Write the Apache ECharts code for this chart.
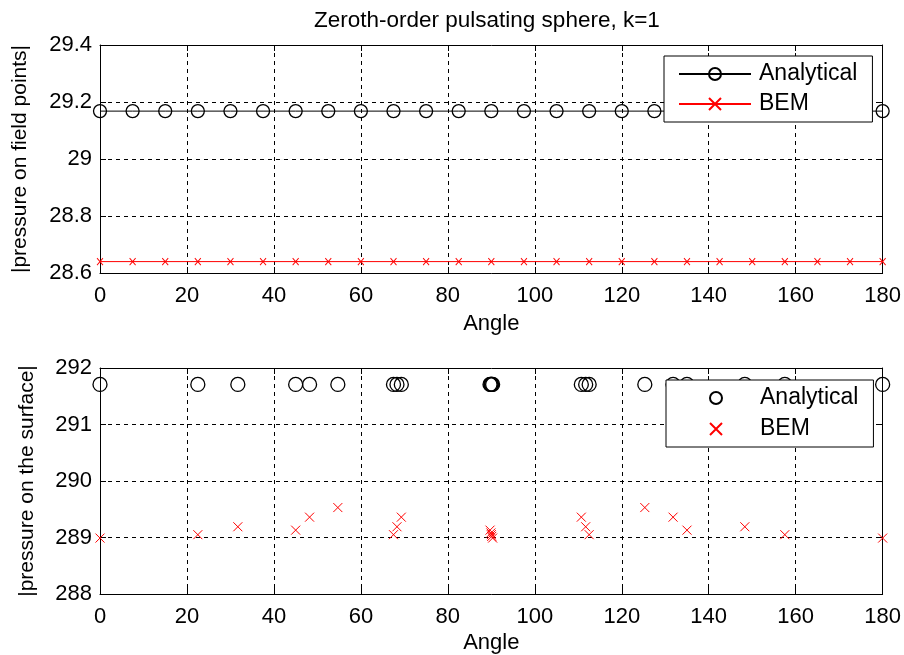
<!DOCTYPE html>
<html>
<head>
<meta charset="utf-8">
<script src="https://cdn.jsdelivr.net/npm/echarts@6/dist/echarts.min.js"></script>
<style>
html,body{margin:0;padding:0;background:#fff;}
#chart{width:904px;height:655px;}
</style>
</head>
<body>
<div id="chart"></div>
<script>
// ---- Data ----
const titleText = 'Zeroth-order pulsating sphere, k=1';
const seriesNames = ['Analytical', 'BEM'];

// Top subplot: field points
const fieldAngles = [0, 7.5, 15, 22.5, 30, 37.5, 45, 52.5, 60, 67.5, 75, 82.5, 90, 97.5, 105, 112.5, 120, 127.5, 135, 142.5, 150, 157.5, 165, 172.5, 180];
const fieldAnalytical = [29.168, 29.168, 29.168, 29.168, 29.168, 29.168, 29.168, 29.168, 29.168, 29.168, 29.168, 29.168, 29.168, 29.168, 29.168, 29.168, 29.168, 29.168, 29.168, 29.168, 29.168, 29.168, 29.168, 29.168, 29.168];
const fieldBEM = [28.64, 28.64, 28.64, 28.64, 28.64, 28.64, 28.64, 28.64, 28.64, 28.64, 28.64, 28.64, 28.64, 28.64, 28.64, 28.64, 28.64, 28.64, 28.64, 28.64, 28.64, 28.64, 28.64, 28.64, 28.64];

// Bottom subplot: surface points
const surfAngles = [0, 22.5, 31.7, 45, 48.2, 54.7, 67.5, 68.3, 69.3, 89.7, 89.9, 90, 90.1, 90.3, 110.7, 111.7, 112.5, 125.3, 131.8, 135, 148.3, 157.5, 180];
const surfAnalytical = [291.71, 291.71, 291.71, 291.71, 291.71, 291.71, 291.71, 291.71, 291.71, 291.71, 291.71, 291.71, 291.71, 291.71, 291.71, 291.71, 291.71, 291.71, 291.71, 291.71, 291.71, 291.71, 291.71];
const surfBEM = [288.99, 289.05, 289.19, 289.13, 289.36, 289.53, 289.05, 289.19, 289.36, 289.13, 289.08, 289.05, 289.02, 288.99, 289.36, 289.19, 289.05, 289.53, 289.36, 289.13, 289.19, 289.05, 288.99];

// Axis settings
const xTicks = {min: 0, max: 180, interval: 20};
const yTopTicks = {min: 28.6, max: 29.4, interval: 0.2};
const yBotTicks = {min: 288, max: 292, interval: 1};
const xName = 'Angle';
const yTopName = '|pressure on field points|';
const yBotName = '|pressure on the surface|';

// ---- Build ----
const FONT = '"Liberation Sans", Arial, sans-serif';
const pairs = (xs, ys) => xs.map((x, i) => [x, ys[i]]);
const crossPath = 'path://M0,0L10,10M0,10L10,0';

function xAxisDef(gi, pos, withLabels, gap) {
  return {
    type: 'value', gridIndex: gi, position: pos,
    min: xTicks.min, max: xTicks.max, interval: xTicks.interval,
    name: withLabels ? xName : '', nameLocation: 'middle', nameGap: gap || 0,
    nameTextStyle: {fontFamily: FONT, fontSize: 22, color: '#000'},
    axisLine: {show: true, onZero: false, lineStyle: {color: '#000', width: 1}},
    axisTick: {show: true, inside: true, length: 6, lineStyle: {color: '#000'}},
    axisLabel: {show: withLabels, fontFamily: FONT, fontSize: 22, color: '#000', margin: 12},
    splitLine: {show: withLabels, lineStyle: {color: '#000', type: [4, 4], width: 1}}
  };
}
function yAxisDef(gi, pos, t, name, gap, withLabels) {
  return {
    type: 'value', gridIndex: gi, position: pos,
    min: t.min, max: t.max, interval: t.interval,
    name: withLabels ? name : '', nameLocation: 'middle', nameGap: gap, nameRotate: 90,
    nameTextStyle: {fontFamily: FONT, fontSize: 21, color: '#000'},
    axisLine: {show: true, onZero: false, lineStyle: {color: '#000', width: 1}},
    axisTick: {show: true, inside: true, length: 6, lineStyle: {color: '#000'}},
    axisLabel: {show: withLabels, fontFamily: FONT, fontSize: 22, color: '#000', margin: 8},
    splitLine: {show: withLabels, lineStyle: {color: '#000', type: [4, 4], width: 1}}
  };
}

const option = {
  backgroundColor: '#fff',
  animation: false,
  title: {
    text: titleText, left: 309, top: 4,
    textStyle: {fontFamily: FONT, fontSize: 22.5, fontWeight: 'normal', color: '#000'}
  },
  grid: [
    {left: 100, top: 45, width: 783, height: 228},
    {left: 100, top: 368, width: 783, height: 229}
  ],
  xAxis: [
    xAxisDef(0, 'bottom', true, 40), xAxisDef(0, 'top', false),
    xAxisDef(1, 'bottom', true, 38), xAxisDef(1, 'top', false)
  ],
  yAxis: [
    yAxisDef(0, 'left', yTopTicks, yTopName, 69, true), yAxisDef(0, 'right', yTopTicks, '', 0, false),
    yAxisDef(1, 'left', yBotTicks, yBotName, 62, true), yAxisDef(1, 'right', yBotTicks, '', 0, false)
  ],
  legend: [
    {
      data: seriesNames, orient: 'vertical', left: 664, top: 56,
      padding: [5, 15, 5, 14], itemGap: 4, itemWidth: 72, itemHeight: 15,
      backgroundColor: '#fff', borderColor: '#000', borderWidth: 1, borderRadius: 0,
      textStyle: {fontFamily: FONT, fontSize: 23, color: '#000', lineHeight: 26, padding: [0, 0, 0, 3]},
      selectedMode: false
    },
    {
      data: seriesNames.map(n => n + ' '), orient: 'vertical', left: 666, top: 380,
      padding: [5, 15, 5, 14], itemGap: 5, itemWidth: 72, itemHeight: 15,
      backgroundColor: '#fff', borderColor: '#000', borderWidth: 1, borderRadius: 0,
      formatter: n => n.trim(),
      textStyle: {fontFamily: FONT, fontSize: 23, color: '#000', lineHeight: 26, padding: [0, 0, 0, 3]},
      selectedMode: false
    }
  ],
  series: [
    {
      name: seriesNames[0], type: 'line', xAxisIndex: 0, yAxisIndex: 0,
      data: pairs(fieldAngles, fieldAnalytical),
      symbol: 'circle', symbolSize: 13, showAllSymbol: true,
      lineStyle: {color: '#000', width: 1},
      itemStyle: {color: 'rgba(0,0,0,0)', borderColor: '#000', borderWidth: 1.3},
      z: 3
    },
    {
      name: seriesNames[1], type: 'line', xAxisIndex: 0, yAxisIndex: 0,
      data: pairs(fieldAngles, fieldBEM),
      symbol: crossPath, symbolSize: [6, 7], showAllSymbol: true,
      lineStyle: {color: '#ff0000', width: 1},
      itemStyle: {color: '#ff0000', borderColor: '#ff0000', borderWidth: 1},
      z: 3
    },
    {
      name: seriesNames[0] + ' ', type: 'line', xAxisIndex: 2, yAxisIndex: 2,
      data: pairs(surfAngles, surfAnalytical),
      symbol: 'circle', symbolSize: 14, showAllSymbol: true,
      lineStyle: {opacity: 0, width: 0},
      itemStyle: {color: 'rgba(0,0,0,0)', borderColor: '#000', borderWidth: 1.3},
      z: 3
    },
    {
      name: seriesNames[1] + ' ', type: 'line', xAxisIndex: 2, yAxisIndex: 2,
      data: pairs(surfAngles, surfBEM),
      symbol: crossPath, symbolSize: 9, showAllSymbol: true,
      lineStyle: {opacity: 0, width: 0},
      itemStyle: {color: '#ff0000', borderColor: '#ff0000', borderWidth: 1},
      z: 3
    }
  ]
};

const chart = echarts.init(document.getElementById('chart'), null, {renderer: 'canvas'});
chart.setOption(option);
</script>
</body>
</html>
